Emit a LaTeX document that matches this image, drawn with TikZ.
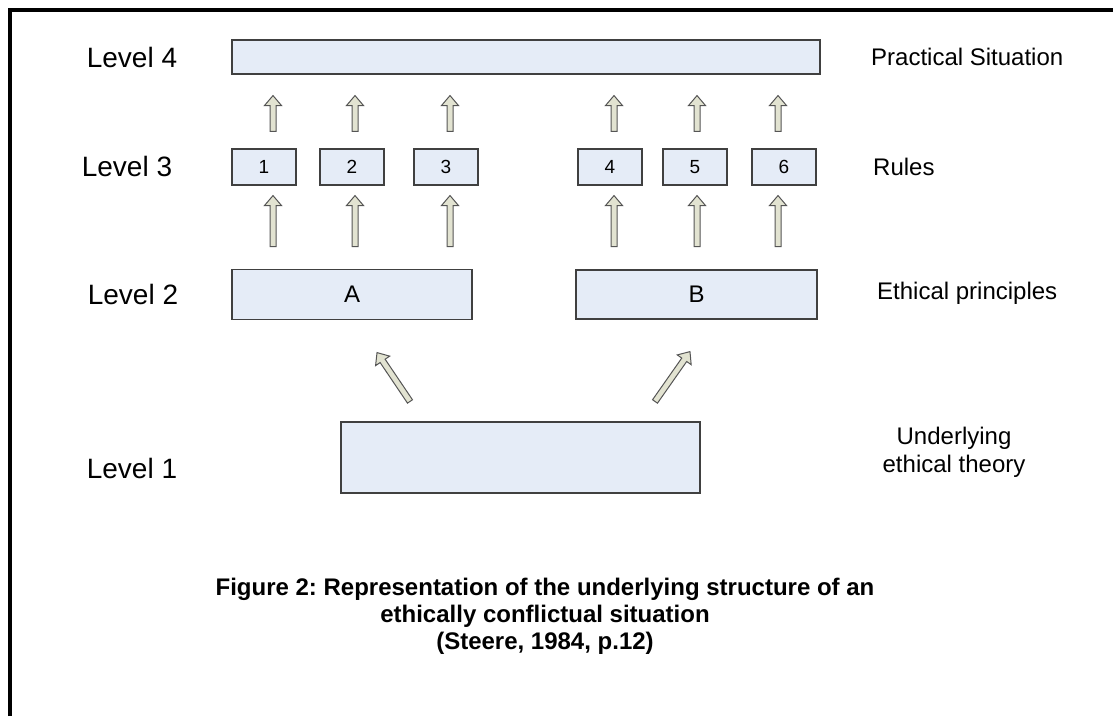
\documentclass[tikz,border=0pt]{standalone}
\usepackage{fontspec}
\setmainfont{Liberation Sans}
\usetikzlibrary{calc}
\definecolor{boxfill}{RGB}{229,236,247}
\definecolor{boxline}{RGB}{64,64,64}
\definecolor{arrfill}{RGB}{226,227,209}
\definecolor{arrline}{RGB}{85,85,85}
\frenchspacing
\begin{document}
\begin{tikzpicture}[x=1pt, y=-1pt,
    levelbox/.style={draw=boxline, fill=boxfill, line width=1.1pt, inner sep=0pt,
      font=\fontsize{24}{28}\selectfont},
    rulebox/.style={levelbox, minimum width=64pt, minimum height=36pt,
      font=\fontsize{19}{23}\selectfont},
    levellabel/.style={inner sep=0pt, font=\fontsize{28}{34}\selectfont},
    sidelabel/.style={anchor=west, inner sep=0pt, font=\fontsize{24}{28}\selectfont},
    blockarrow/.style={draw=arrline, fill=arrfill, line width=1pt, line join=miter,
      to path={let \p1=(\tikztostart), \p2=(\tikztotarget),
        \n1={atan2(\y2-\y1,\x2-\x1)}, \n2={veclen(\x2-\x1,\y2-\y1)} in
        [shift={(\p1)}, rotate=\n1]
        (0,-3) -- (\n2-10,-3) -- (\n2-10,-8.5) -- (\n2,0)
        -- (\n2-10,8.5) -- (\n2-10,3) -- (0,3) -- cycle}}]
    \useasboundingbox (0,0) rectangle (1113,716);
    % frame, only left and top edges are in view
    \draw[line width=4pt] (9.5,716) -- (9.5,9.5) -- (1113,9.5);
    % the four levels
    \node[levelbox, minimum width=588pt, minimum height=34pt] (sit) at (526,57) {};
    \foreach \n/\x in {1/264,2/352,3/446,4/610,5/695,6/784}
        \node[rulebox] (rule\n) at (\x,167) {\n};
    \node[levelbox, minimum width=240pt, minimum height=50pt] (prinA) at (352,294.5) {A};
    \node[levelbox, minimum width=241pt, minimum height=49pt] (prinB) at (696.5,294.5) {B};
    \node[levelbox, minimum width=359pt, minimum height=71pt] (theory) at (520.5,457.5) {};
    % block arrows between the levels
    \foreach \n/\dx in {1/9,2/3,3/4,4/4,5/2,6/-6} {
        \draw[blockarrow] ($(rule\n.north)+(\dx,-17)$) to ($(sit.south)!(rule\n.north)!(sit.south east)+(\dx,21)$);
        \draw[blockarrow] ($(rule\n.south)+(\dx,61)$) to ($(rule\n.south)+(\dx,10)$);
    }
    \draw[blockarrow] ($(theory.north)+(-110.5,-20)$) to ($(prinA.south)+(25,32.5)$);
    \draw[blockarrow] ($(theory.north)+(134.5,-20)$) to ($(prinB.south)+(-6.5,32)$);
    % level names on the left
    \node[levellabel] (lev4) at (132,57) {Level 4};
    \node[levellabel] (lev3) at (127,166) {Level 3};
    \node[levellabel] (lev2) at (133,294) {Level 2};
    \node[levellabel] (lev1) at (132,468) {Level 1};
    % what each level stands for
    \node[sidelabel] (lab4) at (871,57) {Practical Situation};
    \node[sidelabel] (lab3) at (873,167) {Rules};
    \node[sidelabel] (lab2) at (877,293) {Ethical principles};
    \node[sidelabel, anchor=center, align=center] (lab1) at (954,452) {Underlying\\ethical theory};
    % caption
    \node[align=center, font=\bfseries\fontsize{24}{27}\selectfont] (caption) at (545,616)
        {Figure 2: Representation of the underlying structure of an\\ethically conflictual situation\\(Steere, 1984, p.12)};
\end{tikzpicture}
\end{document}
